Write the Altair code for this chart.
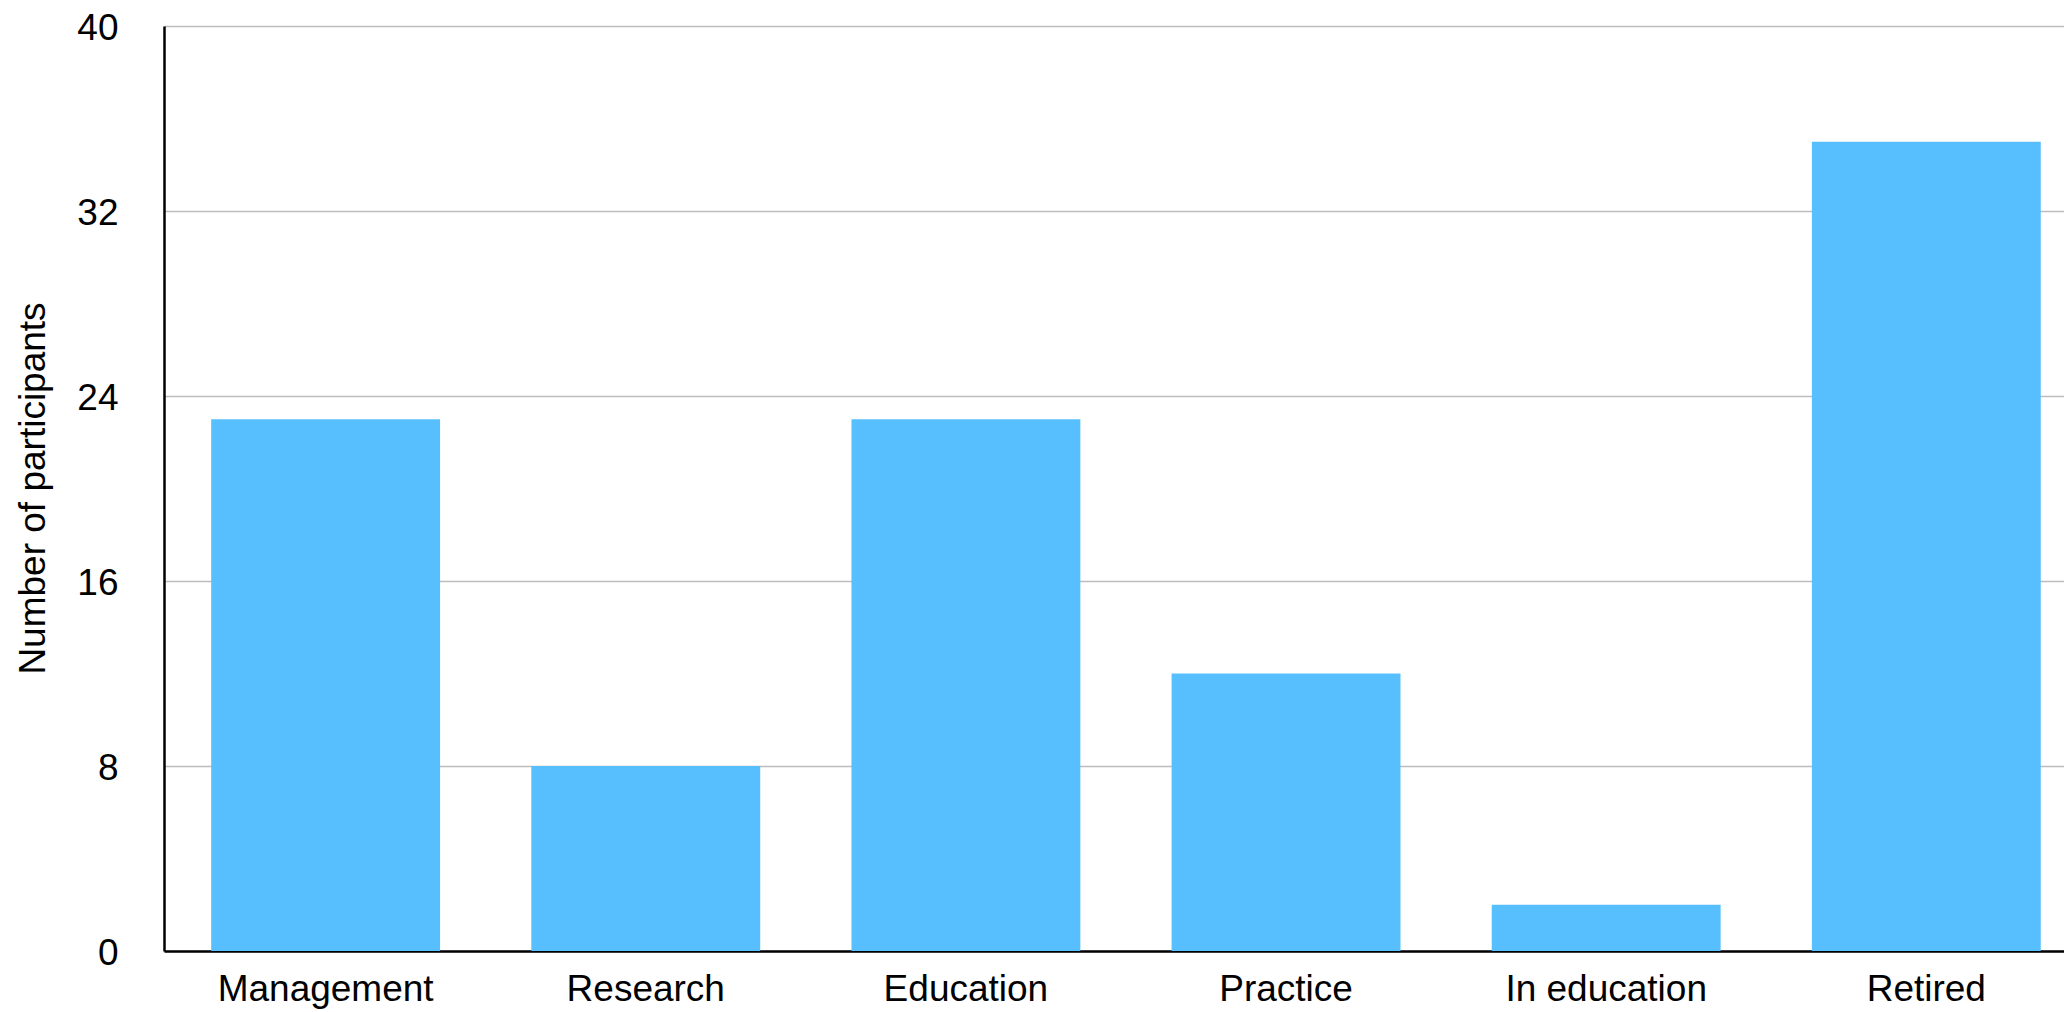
import altair as alt
import pandas as pd

categories = ["Management", "Research", "Education", "Practice", "In education", "Retired"]
participants = [23, 8, 23, 12, 2, 35]
y_ticks = [0, 8, 16, 24, 32, 40]

df = pd.DataFrame({"role": categories, "n": participants})

FONT = "Liberation Sans"

chart = alt.Chart(df).mark_bar(color="#57BFFD").encode(
    x=alt.X(
        "role:N",
        sort=categories,
        title=None,
        scale=alt.Scale(paddingInner=0.285, paddingOuter=0.11, align=0.67),
        axis=alt.Axis(
            labelAngle=0,
            labelFont=FONT,
            labelFontSize=37,
            labelColor="black",
            labelPadding=20,
            labelLimit=0,
            ticks=False,
            domainColor="black",
            domainWidth=2.5,
            grid=False,
        ),
    ),
    y=alt.Y(
        "n:Q",
        title="Number of participants",
        scale=alt.Scale(domain=[0, 40], nice=False),
        axis=alt.Axis(
            values=y_ticks,
            labelFont=FONT,
            labelFontSize=37,
            labelColor="black",
            labelPadding=46,
            labelOffset=2,
            ticks=False,
            domainColor="black",
            domainWidth=2.5,
            gridColor="#bdbdbd",
            gridWidth=1.5,
            titleFont=FONT,
            titleFontSize=37,
            titleFontWeight="normal",
            titleColor="black",
            titleX=-120,
            titleY=462,
            titleAngle=270,
            titleAlign="center",
            titleBaseline="alphabetic",
        ),
    ),
).properties(
    width=1900,
    height=925,
    autosize=alt.AutoSizeParams(type="none"),
    padding={"left": 156, "top": 18, "right": 0, "bottom": 62},
).configure_view(
    stroke=None
).configure(
    background="white"
)

chart.save("out.html", embed_options={"renderer": "svg", "actions": False})
